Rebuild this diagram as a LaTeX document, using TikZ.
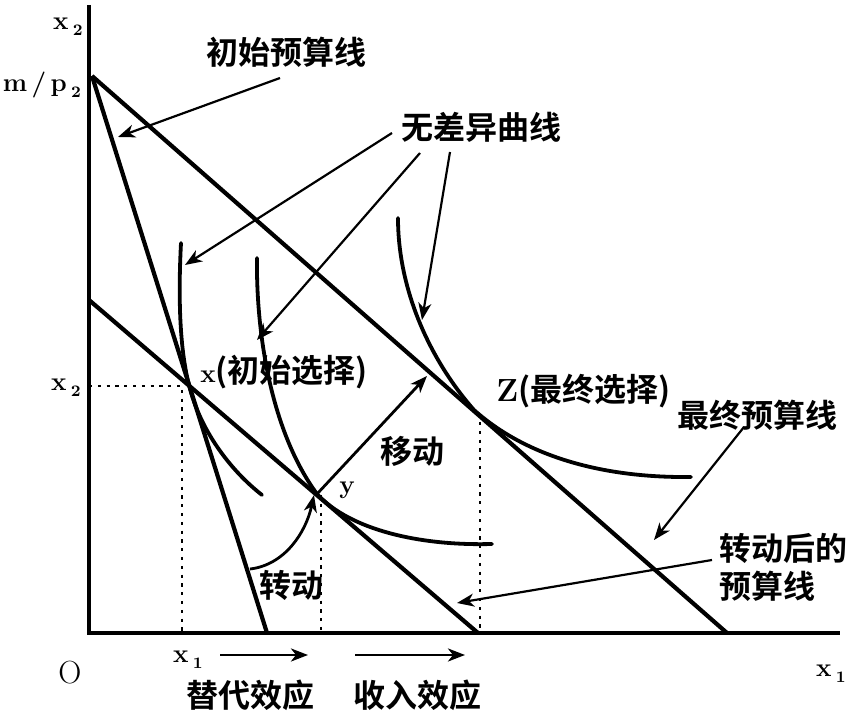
\documentclass[tikz,border=0pt]{standalone}
\usepackage{fontspec}
\newfontfamily\cjk{Noto Sans CJK SC}[BoldFont={Noto Sans CJK SC Bold}]
\usetikzlibrary{arrows.meta}
\begin{document}
\begin{tikzpicture}[x=0.5pt,y=-0.5pt,
 axis/.style={line width=2pt,line join=miter},
 bline/.style={line width=2.1pt},
 icurve/.style={line width=1.9pt,line cap=round},
 ptr/.style={line width=1.1pt,-{Stealth[length=8.5pt,width=6.5pt,inset=2.5pt]}},
 mover/.style={line width=1.4pt,-{Stealth[length=8.5pt,width=6.5pt,inset=2.5pt]}},
 guide/.style={line width=1.3pt,dash pattern=on 1.6pt off 2.8pt},
 zh/.style={font=\cjk\bfseries\fontsize{16}{19}\selectfont, inner sep=0pt},
 lat/.style={font=\bfseries\fontsize{13}{15}\selectfont, inner sep=0pt},
]
\useasboundingbox (0,0) rectangle (848,715);

% key points
\coordinate (O) at (89,633);
\coordinate (ytop) at (89,5);
\coordinate (xend) at (840,633);
\coordinate (A) at (92,76);
\coordinate (B) at (267,633);
\coordinate (C) at (727,633);
\coordinate (D) at (89,300);
\coordinate (E) at (478,633);
\coordinate (X) at (189,385);
\coordinate (Y) at (317,494);
\coordinate (Z) at (474,410);
\coordinate (xc) at (182,386);
\coordinate (yv) at (321,495);
\coordinate (zv) at (480,422);

% axes
\draw[axis] (ytop) -- (O) -- (xend);

% budget lines
\draw[bline] (A) -- (B);
\draw[bline] (A) -- (C);
\draw[bline] (D) -- (E);

% indifference curves
\draw[icurve] (181,243) .. controls (178,300) and (180,350) .. (X)
  .. controls (200,430) and (230,470) .. (262,495);
\draw[icurve] (257,258) .. controls (256,330) and (270,430) .. (Y)
  .. controls (350,530) and (420,546) .. (492,544);
\draw[icurve] (398,218) .. controls (398,290) and (430,360) .. (Z)
  .. controls (530,460) and (610,478) .. (691,477);

% guides
\draw[guide] (O |- xc) -- (xc) -- (xc |- O);
\draw[guide] (yv) -- (yv |- O);
\draw[guide] (zv) -- (zv |- O);

% labels
\node[zh] (lInit) at (286,52) {初始预算线};
\node[zh] (lIC) at (481,127) {无差异曲线};
\node[zh,anchor=west] (lX) at (200,372) {{\rmfamily\bfseries\fontsize{13}{15}\selectfont x}(初始选择)};
\node[zh,anchor=west] (lZ) at (496,391) {{\rmfamily\bfseries Z}(最终选择)};
\node[zh,anchor=west] (lFinal) at (677,415) {最终预算线};
\node[zh,anchor=west] (lRot1) at (719,548) {转动后的};
\node[zh,anchor=west] (lRot2) at (719,586) {预算线};
\node[zh] (lMove) at (412,451) {移动};
\node[zh] (lTurn) at (291,585) {转动};
\node[lat] (lY) at (347,490) {y};
\node[zh] (lSub) at (250,695) {替代效应};
\node[zh] (lInc) at (417,695) {收入效应};
\node[font=\fontsize{16}{18}\selectfont,inner sep=0pt] (lO) at (70,673) {O};
\node[lat] (lx1) at (188,660) {x\,\raisebox{-3pt}{\fontsize{8}{8}\selectfont 1}};
\node[lat] (lx1r) at (831,674) {x\,\raisebox{-3pt}{\fontsize{8}{8}\selectfont 1}};
\node[lat] (lx2t) at (68,27) {x\,\raisebox{-3pt}{\fontsize{8}{8}\selectfont 2}};
\node[lat] (lx2) at (66,388) {x\,\raisebox{-3pt}{\fontsize{8}{8}\selectfont 2}};
\node[lat] (lmp) at (42,85) {m\,/\,p\,\raisebox{-3pt}{\fontsize{8}{8}\selectfont 2}};

% pointer arrows
\coordinate (t1) at (280,78);   \coordinate (h1) at (118,137);
\coordinate (t2) at (392,133);  \coordinate (h2) at (185,265);
\coordinate (t3) at (420,153);  \coordinate (h3) at (257,340);
\coordinate (t4) at (450,152);  \coordinate (h4) at (422,320);
\coordinate (t5) at (744,427);  \coordinate (h5) at (654,540);
\coordinate (t6) at (712,560);  \coordinate (h6) at (457,603);
\coordinate (h7) at (427,376);
\coordinate (t8) at (250,569);  \coordinate (h8) at (314,495);
\coordinate (t9) at (220,655);  \coordinate (h9) at (308,655);
\coordinate (t10) at (355,655); \coordinate (h10) at (465,655);

\draw[ptr] (t1) -- (h1);
\draw[ptr] (t2) -- (h2);
\draw[ptr] (t3) -- (h3);
\draw[ptr] (t4) -- (h4);
\draw[ptr] (t5) -- (h5);
\draw[ptr] (t6) -- (h6);
\draw[mover] (Y) -- (h7);
\draw[mover] (t8) .. controls (285,565) and (306,532) .. (h8);
\draw[mover] (t9) -- (h9);
\draw[mover] (t10) -- (h10);
\end{tikzpicture}
\end{document}
